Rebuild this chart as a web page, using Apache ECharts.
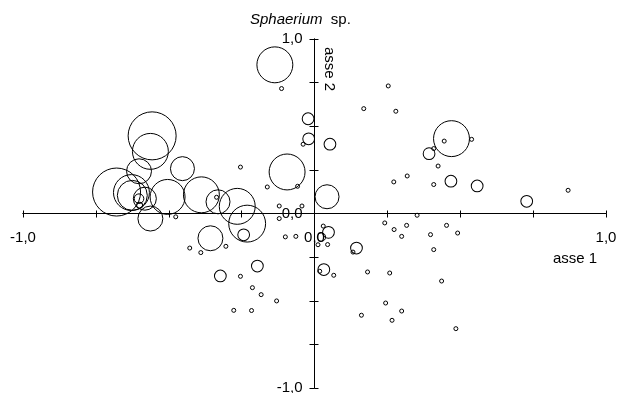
<!DOCTYPE html>
<html>
<head>
<meta charset="utf-8">
<title>Sphaerium sp.</title>
<script src="https://cdn.jsdelivr.net/npm/echarts@6/dist/echarts.min.js"></script>
<style>
  html, body { margin: 0; padding: 0; background: #fff; }
  #chart { width: 618px; height: 393px; }
</style>
</head>
<body>
<div id="chart"></div>
<script>
// punteggi delle stazioni sui due assi + abbondanza (diametro del cerchio)
const asse1 = [
  -0.113, -0.039, -0.254, -0.162, -0.058, -0.336, -0.476, -0.121, -0.121, -0.043,
  -0.100, -0.064, -0.428, -0.390, -0.304, -0.254, -0.213, -0.183, -0.130, -0.277,
  -0.216, 0.253, 0.169, 0.279, 0.445, 0.539, 0.409, 0.424, 0.318, 0.272,
  0.409, 0.870, 0.352, 0.241, 0.273, 0.316, 0.299, 0.453, 0.398, 0.491,
  0.409, 0.132, 0.030, 0.012, 0.045, 0.018, 0.066, 0.182, 0.258, 0.436,
  0.244, 0.299, 0.161, 0.266, 0.485, -0.600,
  -0.136, -0.022, -0.020, 0.053, -0.094, 0.470, 0.393, 0.468, 0.558, 0.728,
  0.043, -0.557, -0.563, -0.602, -0.453, -0.679, -0.628, -0.625, -0.582, -0.602,
  -0.563, -0.504, -0.388, -0.331, -0.265, -0.231, -0.243, -0.357, -0.323, -0.196,
  0.144, 0.048, 0.024, 0.032
]
const asse2 = [
  0.716, 0.397, 0.266, 0.152, 0.156, 0.093, -0.019, 0.043, -0.029, 0.043,
  -0.134, -0.131, -0.198, -0.224, -0.188, -0.360, -0.425, -0.465, -0.501, -0.555,
  -0.556, 0.731, 0.601, 0.586, 0.415, 0.425, 0.372, 0.272, 0.215, 0.181,
  0.166, 0.133, -0.010, -0.054, -0.092, -0.068, -0.131, -0.068, -0.121, -0.112,
  -0.207, -0.221, -0.072, -0.179, -0.178, -0.331, -0.354, -0.335, -0.341, -0.387,
  -0.513, -0.559, -0.583, -0.612, -0.660, 0.047,
  0.852, 0.543, 0.428, 0.397, 0.238, 0.429, 0.343, 0.185, 0.158, 0.070,
  0.096, 0.445, 0.356, 0.242, 0.257, 0.123, 0.120, 0.104, 0.085, 0.085,
  -0.029, 0.095, 0.107, 0.067, 0.041, -0.058, -0.122, -0.142, -0.358, -0.301,
  -0.198, -0.108, -0.135, -0.321
]
const abbondanza = [
  0.5, 0.5, 0.5, 0.5, 0.5, 0.5, 0.5, 0.5, 0.5, 0.5,
  0.5, 0.5, 0.5, 0.5, 0.5, 0.5, 0.5, 0.5, 0.5, 0.5,
  0.5, 0.5, 0.5, 0.5, 0.5, 0.5, 0.5, 0.5, 0.5, 0.5,
  0.5, 0.5, 0.5, 0.5, 0.5, 0.5, 0.5, 0.5, 0.5, 0.5,
  0.5, 0.5, 0.5, 0.5, 0.5, 0.5, 0.5, 0.5, 0.5, 0.5,
  0.5, 0.5, 0.5, 0.5, 0.5, 1.5,
  56, 6, 6, 6, 56, 56, 6, 6, 6, 6,
  25, 100, 56, 27, 25, 100, 56, 39, 23, 4,
  27, 53, 56, 25, 56, 59, 6, 27, 6, 6,
  6, 6, 3, 6
]
// solo questi tick hanno l'etichetta
const tickEtichettati = [-1, 0, 1]

const font = 'Liberation Sans, Arial, sans-serif'
const nero = '#000'

const formatTick = (v) => {
  const ok = tickEtichettati.some(t => Math.abs(t - v) < 1e-9)
  return ok ? v.toFixed(1).replace('.', ',') : ''
}

const chart = echarts.init(document.getElementById('chart'))

const scala = { type: 'value', min: -1, max: 1, interval: 0.25, splitLine: { show: false } }
const linea = { onZero: true, lineStyle: { color: nero, width: 1 } }
const etichette = {
  showMinLabel: true,
  showMaxLabel: true,
  color: nero,
  fontFamily: font,
  fontSize: 15,
  formatter: formatTick
}
// asse solo per le etichette (linea e tacche nascoste)
const soloEtichette = (extra) => ({
  ...scala,
  axisLine: { show: false },
  axisTick: { show: false },
  axisLabel: { ...etichette, ...extra }
})
const nascosto = (gridIndex) => ({ ...scala, gridIndex, show: false })

const option = {
  animation: false,
  backgroundColor: '#fff',
  title: {
    text: '{i|Sphaerium}  sp.',
    left: 250,
    top: 12,
    padding: 0,
    textStyle: {
      fontFamily: font,
      fontSize: 15,
      fontWeight: 'normal',
      color: nero,
      rich: {
        i: { fontFamily: font, fontSize: 15, fontStyle: 'italic', color: nero }
      }
    }
  },
  grid: [
    // area dei punti, assi che si incrociano nello zero
    { left: 23, right: 12, top: 39, bottom: 5, outerBoundsMode: 'none' },
    // metà superiore: il suo bordo basso porta le etichette di asse 1
    { left: 23, right: 12, top: 39, bottom: 179.5, outerBoundsMode: 'none' },
    // metà destra: il suo bordo sinistro porta le etichette di asse 2
    { left: 314.5, right: 12, top: 39, bottom: 5, outerBoundsMode: 'none' }
  ],
  xAxis: [
    {
      ...scala, gridIndex: 0, position: 'bottom', axisLine: linea,
      axisTick: { length: 4, lineStyle: { color: nero } },
      axisLabel: { show: false }
    },
    {
      ...scala, gridIndex: 0, position: 'top', axisLine: linea,
      axisTick: { length: 3, lineStyle: { color: nero } },
      axisLabel: { show: false }
    },
    { ...soloEtichette({ margin: 17 }), gridIndex: 1, position: 'bottom' },
    nascosto(2)
  ],
  yAxis: [
    {
      ...scala, gridIndex: 0, position: 'left', axisLine: linea,
      axisTick: { length: 5, lineStyle: { color: nero } },
      axisLabel: { show: false }
    },
    {
      ...scala, gridIndex: 0, position: 'right', axisLine: linea,
      axisTick: { length: 4, lineStyle: { color: nero } },
      axisLabel: { show: false }
    },
    nascosto(1),
    { ...soloEtichette({ margin: 12 }), gridIndex: 2, position: 'left' }
  ],
  graphic: [
    {
      type: 'text',
      x: 553,
      y: 259,
      style: {
        text: 'asse 1',
        font: '15px ' + font,
        fill: nero,
        textAlign: 'left',
        textVerticalAlign: 'middle'
      }
    },
    {
      type: 'text',
      x: 329,
      y: 69,
      rotation: -Math.PI / 2,
      style: {
        text: 'asse 2',
        font: '15px ' + font,
        fill: nero,
        textAlign: 'center',
        textVerticalAlign: 'middle'
      }
    }
  ],
  series: [
    {
      type: 'scatter',
      xAxisIndex: 0,
      yAxisIndex: 0,
      symbol: 'circle',
      symbolSize: (val) => Math.max(4, 4.8 * Math.sqrt(val[2])),
      itemStyle: { color: 'transparent', borderColor: nero, borderWidth: 1, opacity: 1 },
      emphasis: { disabled: true },
      silent: true,
      data: asse1.map((x, i) => [x, asse2[i], abbondanza[i]])
    }
  ]
}

chart.setOption(option)
</script>
</body>
</html>
